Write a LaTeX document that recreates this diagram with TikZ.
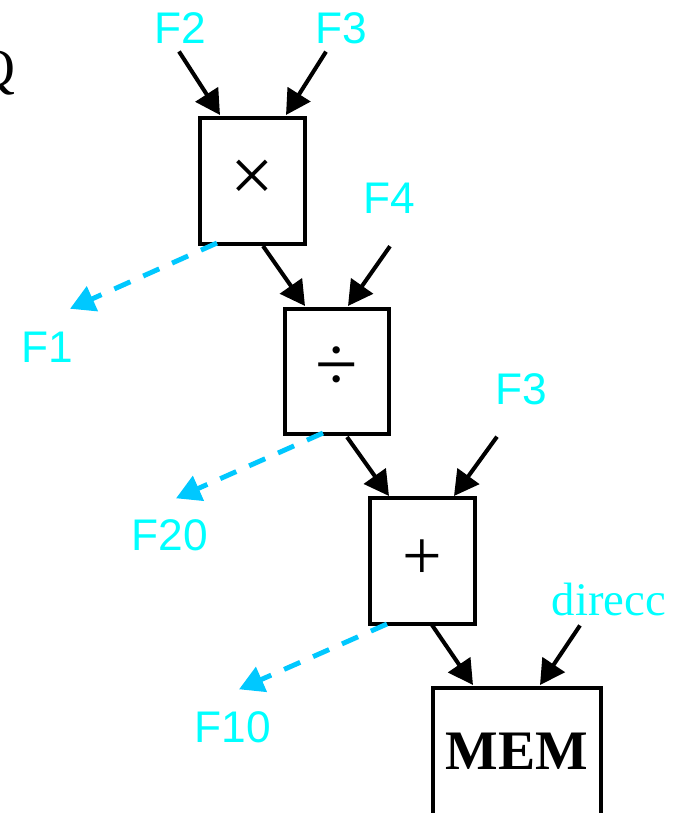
\documentclass[tikz,border=0pt]{standalone}
\usepackage{fontspec}
\setmainfont{Liberation Serif}
\setsansfont{Liberation Sans}
\usepackage{tikz}
\usetikzlibrary{arrows.meta,calc}
\definecolor{gInk}{HTML}{000000}
\definecolor{cReg}{HTML}{00FFFF}
\definecolor{cSpill}{HTML}{00C8FF}
\tikzset{
  dagA/.style={
    every node/.style={inner sep=0pt, outer sep=0pt},
    line cap=butt, line join=miter,
  },
  opBox/.style={
    draw=gInk, line width=2.6pt, fill=white,
    minimum width=21mm, minimum height=25.2mm, inner sep=0pt,
    font=\fontsize{44}{48}\selectfont,
  },
  memBox/.style={
    opBox, minimum width=33.6mm, minimum height=25.4mm,
    font=\bfseries\fontsize{31.7}{36}\selectfont,
  },
  regLabel/.style={text=cReg, font=\sffamily\fontsize{25.2}{30}\selectfont},
  addrLabel/.style={text=cReg, font=\fontsize{26.6}{30}\selectfont},
  cutGlyph/.style={text=gInk, font=\fontsize{30.6}{34}\selectfont},
  flow/.style={-{Triangle[length=14pt, width=15pt]}, gInk, line width=2.3pt},
  spill/.style={-{Triangle[length=14pt, width=15pt]}, cSpill, line width=2.8pt,
                dash pattern=on 10pt off 8pt},
}

\begin{document}
\begin{tikzpicture}[dagA, x=0.2mm, y=-0.2mm]
\useasboundingbox (0,0) rectangle (686,813);

% ============================================================
% Glyph cut by the left edge of the page
% ============================================================
\node[cutGlyph, anchor=base east] (qcut) at (15,86) {Q};

% ============================================================
% Operation chain: x -> div -> + -> MEM
% ============================================================
\node[opBox] (mul) at (252.5,181) {×};
\node[opBox, minimum width=20.8mm, minimum height=25mm]
  (dvd) at (337,371.5) {\raisebox{3pt}{÷}};
\node[opBox, font=\fontsize{40}{44}\selectfont]
  (add) at (422.5,561) {\raisebox{2pt}{+}};
\node[memBox] (mem) at (517,751.5) {MEM};

% ============================================================
% Register operands (cyan labels)
% ============================================================
\node[regLabel] (inA) at (180,28) {F2};
\node[regLabel] (inB) at (341,28) {F3};
\node[regLabel] (inC) at (389,198) {F4};
\node[regLabel] (inD) at (521,389) {F3};
\node[addrLabel, anchor=base] (addr) at (609,615) {direcc};

\node[regLabel] (outA) at (47,347) {F1};
\node[regLabel] (outB) at (170,535) {F20};
\node[regLabel] (outC) at (233,727) {F10};

% operands into the boxes
\draw[flow] ($(inA.south)+(-1,8)$)   -- ($(mul.north)+(-32.5,-3)$);
\draw[flow] ($(inB.south)+(-15,8)$)  -- ($(mul.north)+(33.5,-3)$);
\draw[flow] ($(inC.south)+(1,33)$)   -- ($(dvd.north)+(11,-3)$);
\draw[flow] ($(inD.south)+(-24,32)$) -- ($(add.north)+(31.5,-2)$);
\draw[flow] ($(addr.south)+(-29,10)$) -- ($(mem.north)+(23,-3)$);

% results down the chain
\draw[flow] ($(mul.south)+(10.5,2)$) -- ($(dvd.north)+(-32,-3)$);
\draw[flow] ($(dvd.south)+(10,3)$)   -- ($(add.north)+(-33.5,-2)$);
\draw[flow] ($(add.south)+(9.5,1)$)  -- ($(mem.north)+(-44,-3)$);

% results written back to registers (dashed)
\draw[spill] ($(mul.south)+(-35.5,-1)$) -- ($(outA.north)+(23,-23)$);
\draw[spill] ($(dvd.south)+(-14,-1)$)   -- ($(outB.north)+(6,-21)$);
\draw[spill] ($(add.south)+(-35.5,0)$)  -- ($(outC.north)+(6,-22)$);

\end{tikzpicture}
\end{document}
